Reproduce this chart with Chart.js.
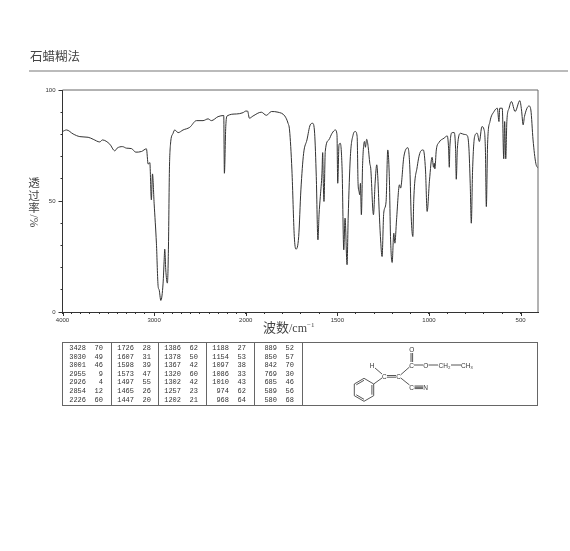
<!DOCTYPE html>
<html lang="zh">
<head>
<meta charset="utf-8">
<title>石蜡糊法</title>
<script src="https://cdn.jsdelivr.net/npm/chart.js@4/dist/chart.umd.min.js"></script>
<style>
  html, body { margin: 0; padding: 0; background: #fff; }
  #page { position: relative; width: 570px; height: 551px; overflow: hidden; color: #333; }
  #page > * { position: absolute; }
  canvas { left: 0; top: 0; }
  .zh { font-family: "Noto Sans CJK SC", serif; color: #444; }
  #heading { left: 30px; top: 46px; font-size: 12.5px; line-height: 20px; }
  #rule { left: 29px; top: 70px; width: 539px; height: 2px; background: #bbb; }
  #ylabel { left: 28px; top: 176px; width: 12px; font-size: 11.5px; line-height: 12.5px; text-align: center; }
  #ylabel span { display: block; }
  #ylabel .turned { width: 16px; height: 12px; margin: 1px 0 0 -2px; font: 11.5px/12px "Liberation Serif", serif; transform: rotate(90deg); white-space: nowrap; }
  #xlabel { left: 263px; top: 318px; font-size: 13px; line-height: 18px; white-space: nowrap; }
  #xlabel .unit { font: 12px/18px "Liberation Serif", serif; }
  #xlabel sup { font-size: 7px; line-height: 0; }
  #peaks { left: 62px; top: 342px; width: 476px; height: 64px; box-sizing: border-box; border: 1px solid #666; }
  .sep { position: absolute; top: 0; bottom: 0; width: 1px; background: #666; }
  .cell { position: absolute; font: 7px/8px "Liberation Mono", monospace; color: #333; text-align: right; white-space: nowrap; }
  #molecule { left: 345px; top: 342px; }
  #molecule text { font: 6.5px "Liberation Sans", sans-serif; fill: #333; text-anchor: middle; dominant-baseline: central; }
  #molecule line, #molecule polygon { stroke: #444; stroke-width: 0.9; fill: none; }
</style>
</head>
<body>
<div id="page">
  <canvas id="irChart" width="570" height="551"></canvas>
  <div id="heading" class="zh">石蜡糊法</div>
  <div id="rule"></div>
  <div id="ylabel" class="zh"><span>透</span><span>过</span><span>率</span><span class="turned">/%</span></div>
  <div id="xlabel" class="zh">波数<span class="unit">/cm<sup>−1</sup></span></div>
  <div id="peaks"></div>
  <svg id="molecule" width="140" height="64" viewBox="345 342 140 64">
    <polygon points="364,378.3 373.7,384 373.7,395.7 364,401.3 354.3,395.7 354.3,384"></polygon>
    <line x1="364" y1="380.3" x2="356.3" y2="384.8"></line>
    <line x1="371.9" y1="385" x2="371.9" y2="394.7"></line>
    <line x1="364" y1="399.3" x2="356.3" y2="394.8"></line>
    <line x1="373.7" y1="384" x2="382" y2="378"></line>
    <line x1="375" y1="368" x2="382" y2="374"></line>
    <line x1="387" y1="375.5" x2="396" y2="375.5"></line>
    <line x1="387" y1="377.2" x2="396" y2="377.2"></line>
    <line x1="401" y1="374.5" x2="409.5" y2="367"></line>
    <line x1="401" y1="378.2" x2="409.5" y2="385"></line>
    <line x1="411" y1="353" x2="411" y2="362"></line>
    <line x1="412.6" y1="353" x2="412.6" y2="362"></line>
    <line x1="414" y1="365" x2="423" y2="365"></line>
    <line x1="428.5" y1="365" x2="438" y2="365"></line>
    <line x1="451" y1="365" x2="461" y2="365"></line>
    <line x1="414.5" y1="386" x2="423" y2="386"></line>
    <line x1="414.5" y1="387.3" x2="423" y2="387.3"></line>
    <line x1="414.5" y1="388.6" x2="423" y2="388.6"></line>
    <text x="372" y="365">H</text>
    <text x="384.3" y="376.3">C</text>
    <text x="398.7" y="376.3">C</text>
    <text x="411.7" y="365">C</text>
    <text x="411.7" y="349.7">O</text>
    <text x="425.7" y="365">O</text>
    <text x="444.5" y="365">CH₂</text>
    <text x="467" y="365">CH₃</text>
    <text x="411.7" y="387">C</text>
    <text x="425.7" y="387">N</text>
  </svg>
</div>
<script>
// Spectrum: wavenumber (cm-1) and transmittance (%)
const waveNumbers = [
  4000, 3956, 3884, 3811, 3720, 3665, 3593, 3564, 3484, 3429, 3404, 3345, 3302, 3247, 3200, 3138, 3084, 3065, 3047, 3030,
  3018, 3000, 2975, 2956, 2945, 2927, 2902, 2891, 2884, 2873, 2855, 2844, 2833, 2822, 2793, 2775, 2738, 2684, 2611, 2538,
  2466, 2411, 2375, 2302, 2240, 2233, 2218, 2204, 2102, 2029, 2000, 1990, 1980, 1960, 1915, 1887, 1860, 1824, 1787, 1769,
  1761, 1748, 1735, 1726, 1711, 1699, 1684, 1666, 1648, 1635, 1624, 1615, 1606, 1600, 1593, 1584, 1580, 1577, 1573, 1566,
  1547, 1529, 1511, 1502, 1498, 1491, 1484, 1474, 1465, 1458, 1447, 1441, 1429, 1414, 1402, 1392, 1387, 1381, 1378, 1374,
  1369, 1362, 1352, 1347, 1340, 1332, 1323, 1318, 1303, 1294, 1285, 1279, 1272, 1265, 1256, 1247, 1234, 1225, 1216, 1210,
  1201, 1192, 1186, 1177, 1161, 1155, 1137, 1115, 1104, 1097, 1088, 1083, 1064, 1046, 1031, 1019, 1010, 997, 983, 975,
  971, 968, 960, 946, 918, 900, 893, 889, 886, 873, 862, 855, 851, 845, 827, 809, 791, 782, 775, 769,
  762, 751, 737, 725, 711, 700, 692, 687, 680, 667, 645, 627, 618, 614, 600, 592, 587, 581, 575, 563,
  550, 530, 504, 495, 486, 479, 454, 444, 432, 417, 405
];
const transmittance = [
  81.3, 82, 80.2, 79, 78.7, 77.8, 76.6, 77.5, 75.6, 72.6, 73.8, 74.5, 73.8, 73.6, 72, 72.3, 73.5, 66.6, 67.3, 50.5,
  62.2, 49, 31, 11.5, 10, 5.2, 13, 22.8, 28.3, 19, 13, 28, 64, 75.3, 80.5, 82, 80.8, 82, 83.2, 86.2,
  86.2, 87, 86.2, 88, 88.5, 62.5, 83.5, 88.3, 89.2, 89.8, 90.5, 90.5, 87.3, 88.3, 90, 88.6, 90.3, 90, 88.3, 85,
  82, 64, 34, 28.3, 34, 55, 71.5, 77.5, 84.3, 85, 80.5, 61, 32.5, 43.8, 52, 62.5, 71.8, 59.5, 49.8, 72.3,
  77.5, 80.5, 82, 79.8, 58, 75.3, 76, 64, 28, 42.3, 21.3, 42.3, 70, 79.8, 81.3, 79, 58, 54, 52.8, 58,
  43.8, 67, 76.8, 74.2, 77.8, 74.5, 67, 64.8, 43.8, 58, 66.3, 60.3, 46, 34, 25, 44.5, 49.8, 73, 59.5, 34,
  22.3, 35.5, 31, 41.5, 57.3, 55.8, 70, 74, 64, 43, 34, 50.5, 65.5, 72.3, 73, 64, 45.3, 59.5, 69.7, 65.2,
  67, 64.5, 73, 76.3, 78.3, 79.3, 73.8, 65.2, 74.5, 80.8, 80.8, 73.8, 59.8, 73.8, 80.5, 80, 79.5, 73.8, 58, 40,
  64, 79, 80.5, 76.8, 83.5, 82.3, 73, 47.5, 76, 85.8, 90.3, 91.8, 85.8, 91.8, 91.8, 69, 85.8, 69, 85.8, 91.8,
  94.8, 90.3, 95.2, 91, 84.3, 88, 92.8, 91, 77.5, 67, 64.8
];

// Peak table under the chart, one array per printed column
const peakColumns = [
  [[3428, 70], [3030, 49], [3001, 46], [2955, 9], [2926, 4], [2854, 12], [2226, 60]],
  [[1726, 28], [1607, 31], [1598, 39], [1573, 47], [1497, 55], [1465, 26], [1447, 20]],
  [[1386, 62], [1378, 50], [1367, 42], [1320, 60], [1302, 42], [1257, 23], [1202, 21]],
  [[1188, 27], [1154, 53], [1097, 38], [1086, 33], [1010, 43], [974, 62], [968, 64]],
  [[889, 52], [850, 57], [842, 70], [769, 30], [685, 46], [589, 56], [580, 68]],
];

const xLabelWaves = [4000, 3000, 2000, 1500, 1000, 500];
const xTickWaves = [
  4000, 3900, 3800, 3700, 3600, 3500, 3400, 3300, 3200, 3100, 3000, 2900, 2800, 2700, 2600, 2500, 2400, 2300, 2200, 2100,
  2000, 1900, 1800, 1700, 1600, 1500, 1400, 1300, 1200, 1100, 1000, 900, 800, 700, 600, 500
];
const yTicks = [0, 10, 20, 30, 40, 50, 60, 70, 80, 90, 100];
const yLabels = [0, 50, 100];

// The wavenumber axis doubles its scale below 2000 cm-1
function axisPos(wave) {
  return wave >= 2000 ? 4000 - wave : 2000 + (2000 - wave) * 2;
}
function waveAt(pos) {
  return pos <= 2000 ? 4000 - pos : 2000 - (pos - 2000) / 2;
}

// Frame on top/right and the long tick marks
const framePlugin = {
  id: 'frame',
  afterDraw(chart) {
    const { ctx, chartArea: area, scales } = chart;
    ctx.save();
    ctx.lineWidth = 1;
    ctx.strokeStyle = '#666';
    ctx.beginPath();
    ctx.moveTo(area.left, area.top);
    ctx.lineTo(area.right, area.top);
    ctx.lineTo(area.right, area.bottom);
    ctx.stroke();
    ctx.strokeStyle = '#333';
    ctx.beginPath();
    xLabelWaves.forEach(w => {
      const px = Math.round(scales.x.getPixelForValue(axisPos(w))) + 0.5;
      ctx.moveTo(px, area.bottom);
      ctx.lineTo(px, area.bottom + 4);
    });
    yLabels.forEach(v => {
      const py = Math.round(scales.y.getPixelForValue(v)) + 0.5;
      ctx.moveTo(area.left, py);
      ctx.lineTo(area.left - 4, py);
    });
    ctx.stroke();
    ctx.restore();
  },
};

new Chart(document.getElementById('irChart'), {
  type: 'line',
  data: {
    datasets: [{
      data: waveNumbers.map((w, i) => ({ x: axisPos(w), y: transmittance[i] })),
      borderColor: '#333',
      borderWidth: 1,
      pointRadius: 0,
      cubicInterpolationMode: 'monotone',
      fill: false,
    }],
  },
  options: {
    responsive: false,
    animation: false,
    layout: { padding: { left: 30, top: 90, right: 32, bottom: 200 } },
    plugins: { legend: { display: false }, tooltip: { enabled: false } },
    scales: {
      x: {
        type: 'linear',
        min: 0,
        max: 5190,
        afterBuildTicks: scale => { scale.ticks = xTickWaves.map(w => ({ value: axisPos(w) })); },
        afterFit: scale => { scale.height = 39; },
        grid: { drawOnChartArea: false, color: '#333', tickLength: 2 },
        border: { color: '#333' },
        ticks: {
          autoSkip: false,
          maxRotation: 0,
          padding: 3,
          color: '#333',
          font: { family: "'Liberation Sans', sans-serif", size: 6 },
          callback: value => {
            const wave = Math.round(waveAt(value));
            return xLabelWaves.includes(wave) ? String(wave) : '';
          },
        },
      },
      y: {
        min: 0,
        max: 100,
        afterBuildTicks: scale => { scale.ticks = yTicks.map(v => ({ value: v })); },
        afterFit: scale => { scale.width = 32.5; },
        grid: { drawOnChartArea: false, color: '#333', tickLength: 2 },
        border: { color: '#333' },
        ticks: {
          autoSkip: false,
          padding: 5,
          color: '#333',
          font: { family: "'Liberation Sans', sans-serif", size: 6 },
          callback: value => (yLabels.includes(value) ? String(value) : ''),
        },
      },
    },
  },
  plugins: [framePlugin],
});

// Peak table cells
const peaksBox = document.getElementById('peaks');
const columnLefts = [0, 48, 95, 143, 191, 239];
function addCell(text, right, top) {
  const cell = document.createElement('div');
  cell.className = 'cell';
  cell.textContent = text;
  cell.style.right = (474 - right) + 'px';
  cell.style.top = top + 'px';
  peaksBox.appendChild(cell);
}
columnLefts.slice(1).forEach(left => {
  const sep = document.createElement('div');
  sep.className = 'sep';
  sep.style.left = left + 'px';
  peaksBox.appendChild(sep);
});
peakColumns.forEach((column, c) => {
  column.forEach(([wave, value], r) => {
    const top = 1 + r * 8.6;
    addCell(String(wave), columnLefts[c] + 23, top);
    addCell(String(value), columnLefts[c] + 40, top);
  });
});
</script>
</body>
</html>
